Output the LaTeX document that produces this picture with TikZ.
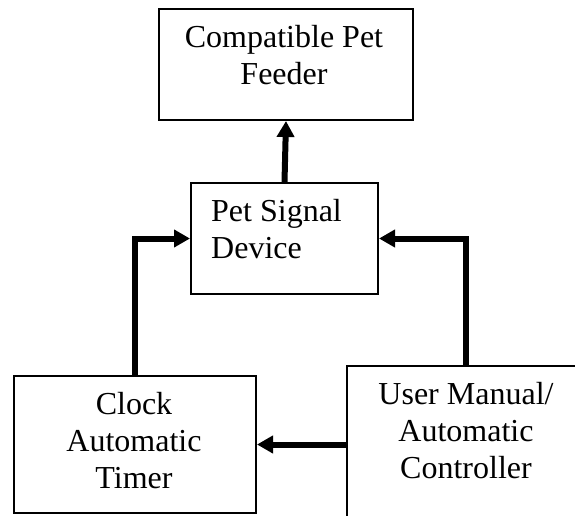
\documentclass[tikz,border=0pt]{standalone}
\usepackage{fontspec}
\setmainfont{Liberation Serif}
\usetikzlibrary{arrows.meta}
\begin{document}
\begin{tikzpicture}[x=1pt,y=-1pt,
 box/.style={draw, line width=2pt, inner sep=0pt, anchor=north west},
 lbl/.style={font=\fontsize{32}{37}\selectfont, inner sep=0pt, anchor=base, align=center},
 flow/.style={line width=6pt, -{Triangle[length=16pt,width=17pt]}}]
\useasboundingbox (0,0) rectangle (575,516);
\clip (0,0) rectangle (575,516);
\node[box, minimum width=254pt, minimum height=111pt] (feeder) at (158,8) {};
\node[box, minimum width=187pt, minimum height=111pt] (signal) at (190,182) {};
\node[box, minimum width=242pt, minimum height=137pt] (clock) at (13,375) {};
\node[box, minimum width=274pt, minimum height=195pt] (user) at (346,365) {};
\node[lbl] (feedertxt) at (284,85) {Compatible Pet\\Feeder};
\node[lbl, anchor=base west, align=left] (signaltxt) at (211,258) {Pet Signal\\Device};
\node[lbl] (clocktxt) at (134,488) {Clock\\Automatic\\Timer};
\node[lbl] (usertxt) at (466,478) {User Manual/\\Automatic\\Controller};
\draw[flow] (signal.north) -- (feeder.south);
\draw[flow] (clock.north) |- (signal.west);
\draw[flow] ([xshift=120pt]user.north west) |- (signal.east);
\draw[flow] (clock.east -| user.west) -- (clock.east);
\end{tikzpicture}
\end{document}
